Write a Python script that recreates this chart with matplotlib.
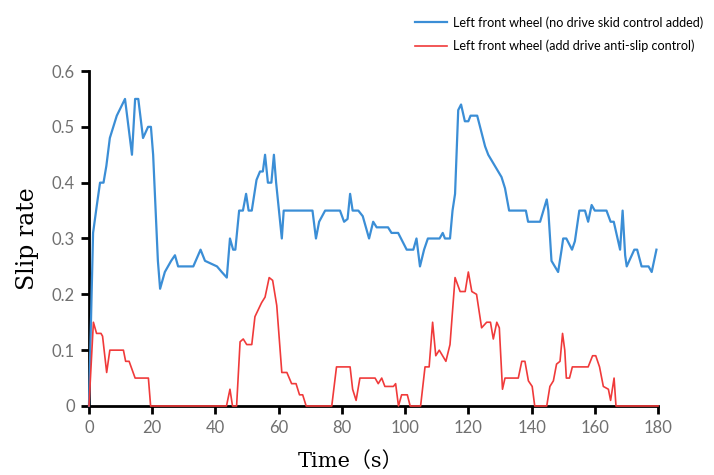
import matplotlib
matplotlib.use("Agg")
import matplotlib.pyplot as plt

blue_t = [0, 1.3, 2.5, 3.5, 4.6, 5.5, 6.6, 8.8, 11.4, 12.5, 13.6, 14.6, 15.6, 17.1, 18.7, 19.6, 20.3, 21.8, 22.5,
          24, 26, 27.2, 28.2, 33, 35.3, 36.7, 40.5, 42, 43.6, 44.6, 45.6, 46.3, 47.5, 48.7, 49.7, 50.5, 51.5, 53,
          54.1, 55, 55.7, 56.6, 57.7, 58.5, 59.2, 61, 61.6, 70.7, 71.8, 72.8, 74.7, 79.4, 80.7, 81.8, 82.6, 83.4,
          85.2, 86.6, 88.6, 89.9, 91, 94.6, 95.7, 97.8, 100.5, 102.6, 103.6, 104.7, 106, 107.2, 110.9, 111.9,
          112.6, 114.2, 115, 115.8, 116.8, 117.7, 118.9, 120, 120.7, 122.8, 125.3, 126.3, 130.5, 131.6, 132.9,
          138.2, 138.9, 142.7, 144.8, 145.3, 146.3, 148.4, 149.5, 150, 151, 152.8, 153.7, 155.1, 156.9, 157.9,
          159, 160, 163.7, 165, 166, 168, 168.8, 169.6, 170.1, 171.7, 172.5, 173.4, 174.8, 177, 178, 179.5]
blue_v = [0, 0.31, 0.36, 0.40, 0.40, 0.43, 0.48, 0.52, 0.55, 0.50, 0.45, 0.55, 0.55, 0.48, 0.50, 0.50, 0.45, 0.26, 0.21,
          0.24, 0.26, 0.27, 0.25, 0.25, 0.28, 0.26, 0.25, 0.24, 0.23, 0.30, 0.28, 0.28, 0.35, 0.35, 0.38, 0.35, 0.35, 0.405,
          0.42, 0.42, 0.45, 0.40, 0.40, 0.45, 0.40, 0.30, 0.35, 0.35, 0.30, 0.33, 0.35, 0.35, 0.33, 0.335, 0.38, 0.35,
          0.35, 0.34, 0.30, 0.33, 0.32, 0.32, 0.31, 0.31, 0.28, 0.28, 0.30, 0.25, 0.28, 0.30, 0.30, 0.31,
          0.30, 0.30, 0.35, 0.38, 0.53, 0.54, 0.51, 0.51, 0.52, 0.52, 0.465, 0.45, 0.41, 0.39, 0.35,
          0.35, 0.33, 0.33, 0.37, 0.35, 0.26, 0.24, 0.28, 0.30, 0.30, 0.28, 0.295, 0.35, 0.35, 0.33,
          0.36, 0.35, 0.35, 0.33, 0.33, 0.28, 0.35, 0.27, 0.25, 0.27, 0.28, 0.28, 0.25, 0.25, 0.24, 0.28]

red_t = [0, 1.4, 2.4, 3.8, 4.3, 5.6, 6.6, 10.9, 11.6, 12.7, 14.6, 18.8, 19.5, 43.5, 44.6, 45.4, 46.7, 47.8, 48.8,
         49.9, 51.5, 52.5, 54.6, 55.7, 57, 58.1, 59.4, 61, 62.6, 64.1, 65.5, 66.6, 67.6, 68.7, 76.8, 78.3, 82.6,
         83.4, 84.5, 85.7, 90.5, 91.5, 92.6, 93.6, 96.3, 97, 97.9, 98.9, 100.7, 101.6, 104.9, 106.3, 107.6, 108.7,
         109.7, 110.8, 112.9, 114.2, 115.8, 117.4, 119, 120, 121.1, 122.6, 124.2, 125.8, 127, 127.9, 129, 129.8,
         130.8, 131.6, 135.8, 136.9, 137.9, 139, 140.2, 141, 144.8, 145.8, 146.9, 147.9, 149, 149.8, 150.5, 151,
         152, 152.9, 157.9, 159.3, 160.3, 161.5, 162.7, 164.3, 165, 166.1, 166.7, 180]
red_v = [0, 0.15, 0.13, 0.13, 0.125, 0.06, 0.10, 0.10, 0.08, 0.08, 0.05, 0.05, 0, 0, 0.03, 0, 0, 0.115, 0.12,
         0.11, 0.11, 0.16, 0.185, 0.195, 0.23, 0.225, 0.18, 0.06, 0.06, 0.04, 0.04, 0.02, 0.02, 0, 0, 0.07, 0.07,
         0.03, 0.01, 0.05, 0.05, 0.04, 0.05, 0.035, 0.035, 0.04, 0, 0.02, 0.02, 0, 0, 0.07, 0.07, 0.15,
         0.09, 0.10, 0.08, 0.11, 0.23, 0.205, 0.205, 0.24, 0.205, 0.20, 0.14, 0.15, 0.15, 0.12, 0.15, 0.14,
         0.03, 0.05, 0.05, 0.08, 0.08, 0.045, 0.035, 0, 0, 0.035, 0.045, 0.075, 0.08, 0.13, 0.10, 0.05,
         0.05, 0.07, 0.07, 0.09, 0.09, 0.07, 0.035, 0.03, 0.01, 0.05, 0, 0]

x_ticks = [0, 20, 40, 60, 80, 100, 120, 140, 160, 180]
y_ticks = [0, 0.1, 0.2, 0.3, 0.4, 0.5, 0.6]
y_tick_labels = ["0", "0.1", "0.2", "0.3", "0.4", "0.5", "0.6"]
label_blue = "Left front wheel (no drive skid control added)"
label_red = "Left front wheel (add drive anti-slip control)"

fig = plt.figure(figsize=(7.14, 4.75), dpi=100)
ax = fig.add_axes([0.1246, 0.1453, 0.797, 0.7052])
lb, = ax.plot(blue_t, blue_v, color="#3b8ed6", lw=1.6, label=label_blue, clip_on=False, zorder=4)
lr, = ax.plot(red_t, red_v, color="#f03a3a", lw=1.2, label=label_red, clip_on=False, zorder=5)

ax.set_xlim(0, 180)
ax.set_ylim(0, 0.6)
ax.set_xticks(x_ticks)
ax.set_yticks(y_ticks)
ax.set_yticklabels(y_tick_labels)
for s in ["top", "right"]:
    ax.spines[s].set_visible(False)
for s in ["left", "bottom"]:
    ax.spines[s].set_linewidth(2)
    ax.spines[s].set_color("black")
ax.tick_params(direction="out", length=6, width=2, color="black", labelcolor="#707070", labelsize=12, pad=4)
for t in ax.get_xticklabels() + ax.get_yticklabels():
    t.set_family("Lato")

ax.set_ylabel("Slip rate", family=["DejaVu Serif", "Noto Sans CJK SC"], fontsize=17)
ax.yaxis.set_label_coords(-0.088, 0.50)
ax.set_xlabel("Time（s）", family=["DejaVu Serif", "Noto Sans CJK SC"], fontsize=15)
ax.xaxis.set_label_coords(0.459, -0.135)

fig.legend(handles=[lb, lr], loc="upper left", bbox_to_anchor=(0.566, 0.99), frameon=False,
           handlelength=2.5, handletextpad=0.45, labelspacing=0.85,
           prop={"family": "Lato", "size": 9.1})

fig.savefig("out.png", dpi=100)
